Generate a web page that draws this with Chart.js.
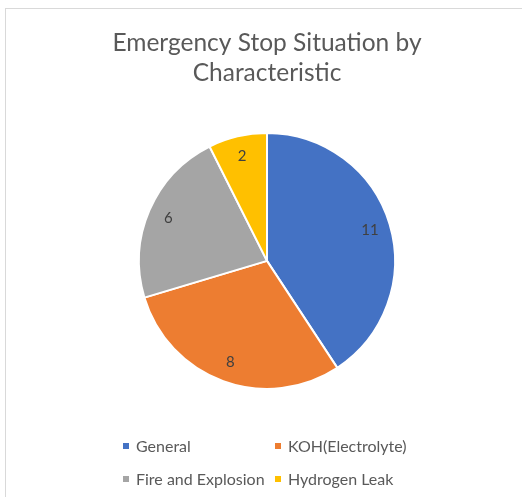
<!DOCTYPE html>
<html>
<head>
<meta charset="utf-8">
<script src="https://cdn.jsdelivr.net/npm/chart.js@4.4.0/dist/chart.umd.min.js"></script>
<style>
    html,body{margin:0;padding:0;background:#fff;}
    #wrap{position:relative;width:522px;height:497px;overflow:hidden;}
    #frame{position:absolute;left:5px;top:8px;width:600px;height:600px;border-left:1px solid #d9d9d9;border-top:1px solid #d9d9d9;}
    #chart{position:absolute;left:0;top:0;}
    #legend{position:absolute;left:123px;top:429px;display:grid;grid-template-columns:152px 152px;grid-auto-rows:33px;
        font-family:Lato,"Open Sans",sans-serif;font-size:16px;color:#595959;}
    #legend .item{display:flex;align-items:center;white-space:nowrap;}
    #legend .box{width:6px;height:6px;margin-right:7px;}
</style>
</head>
<body>
<div id="wrap">
    <div id="frame"></div>
    <canvas id="chart" width="522" height="497"></canvas>
    <div id="legend"></div>
</div>
<script>
const titleLines=['Emergency Stop Situation by','Characteristic'];
const categories=['General','KOH(Electrolyte)','Fire and Explosion','Hydrogen Leak'];
const counts=[11,8,6,2];
const colors=['#4472C4','#ED7D31','#A5A5A5','#FFC000'];

// values drawn on the slices, near the outer edge like the office chart
const sliceLabels={
    id:'sliceLabels',
    afterDatasetsDraw(chart){
        const ctx=chart.ctx;
        const meta=chart.getDatasetMeta(0);
        ctx.save();
        ctx.font='15px Lato, "Open Sans", sans-serif';
        ctx.fillStyle='#404040';
        ctx.textAlign='center';
        ctx.textBaseline='middle';
        meta.data.forEach(function(arc,i){
            const p=arc.getProps(['x','y','startAngle','endAngle','outerRadius'],true);
            const mid=(p.startAngle+p.endAngle)/2;
            const r=p.outerRadius*0.84;
            ctx.fillText(String(counts[i]),p.x+Math.cos(mid)*r,p.y+Math.sin(mid)*r);
        });
        ctx.restore();
    }
};

new Chart(document.getElementById('chart'),{
    type:'pie',
    data:{
        labels:categories,
        datasets:[{
            data:counts,
            backgroundColor:colors,
            borderColor:'#ffffff',
            borderWidth:2,
            hoverOffset:0,
            radius:128
        }]
    },
    options:{
        responsive:false,
        animation:false,
        layout:{padding:{left:12,right:0,top:0,bottom:108}},
        plugins:{
            legend:{display:false},
            tooltip:{enabled:false},
            title:{
                display:true,
                text:titleLines,
                color:'#595959',
                font:{family:'Lato, "Open Sans", sans-serif',size:24.5,weight:'normal',lineHeight:1.22},
                padding:{top:28,bottom:45}
            }
        }
    },
    plugins:[sliceLabels]
});

const legend=document.getElementById('legend');
categories.forEach(function(name,i){
    const item=document.createElement('div');
    item.className='item';
    item.innerHTML='<span class="box" style="background:'+colors[i]+'"></span><span>'+name+'</span>';
    legend.appendChild(item);
});
</script>
</body>
</html>
